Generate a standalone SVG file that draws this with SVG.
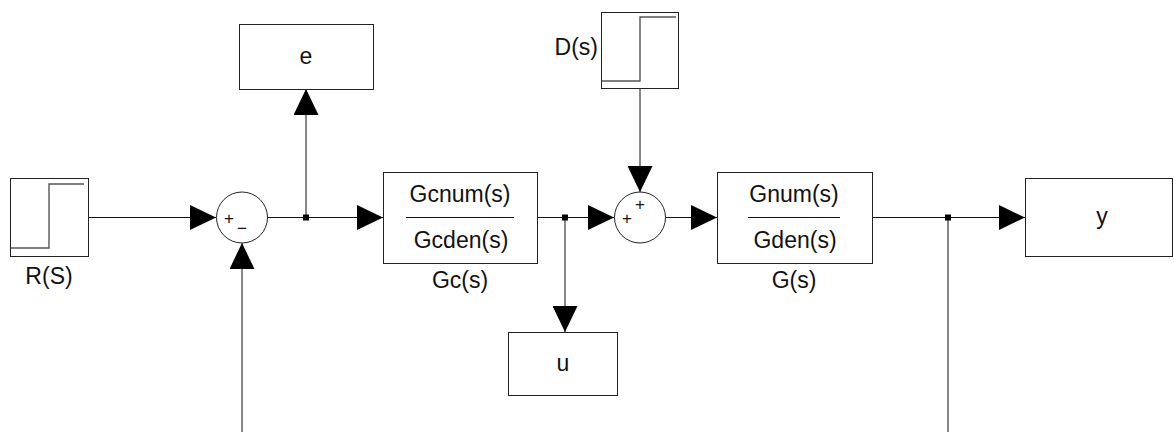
<svg xmlns="http://www.w3.org/2000/svg" width="1174" height="432" viewBox="0 0 1174 432">
  <style>
    .blk { fill: #fff; stroke: #222; stroke-width: 1; }
    .sig { fill: none; stroke: #555; stroke-width: 1.4; }
    .wire { fill: none; stroke: #111; stroke-width: 1; }
    .arw { marker-end: url(#head); }
    .lbl { font-family: "Liberation Sans", Arial, sans-serif; font-size: 23px; fill: #111; text-anchor: middle; }
    .sgn { font-family: "Liberation Sans", Arial, sans-serif; font-size: 17px; fill: #111; text-anchor: middle; }
    .frac { stroke: #111; stroke-width: 1; }
    .dot { fill: #000; }
  </style>
  <defs>
    <marker id="head" markerUnits="userSpaceOnUse" markerWidth="26" markerHeight="25" refX="26" refY="12.5" orient="auto">
      <path d="M0,0 L26,12.5 L0,25 Z" fill="#000"/>
    </marker>
  </defs>
  <rect width="1174" height="432" fill="#fff"/>

  <!-- connectors -->
  <g id="connectors">
    <line class="wire arw" x1="88" y1="217.5" x2="216" y2="217.5"/>
    <line class="wire" x1="267" y1="217.5" x2="306" y2="217.5"/>
    <line class="wire arw" x1="306" y1="217.5" x2="383" y2="217.5"/>
    <line class="wire arw" x1="306" y1="217" x2="306" y2="89"/>
    <line class="wire arw" x1="242" y1="432" x2="242" y2="243"/>
    <line class="wire" x1="537" y1="217.5" x2="565" y2="217.5"/>
    <line class="wire arw" x1="565" y1="217.5" x2="614" y2="217.5"/>
    <line class="wire arw" x1="565" y1="217" x2="565" y2="332"/>
    <line class="wire arw" x1="640" y1="88" x2="640" y2="192"/>
    <line class="wire arw" x1="665" y1="217.5" x2="717" y2="217.5"/>
    <line class="wire" x1="872" y1="217.5" x2="948" y2="217.5"/>
    <line class="wire arw" x1="948" y1="217.5" x2="1025" y2="217.5"/>
    <line class="wire" x1="948" y1="217" x2="948" y2="432"/>
    <rect class="dot" x="303" y="214.5" width="6" height="6"/>
    <rect class="dot" x="562" y="214.5" width="6" height="6"/>
    <rect class="dot" x="945" y="214.5" width="6" height="6"/>
  </g>

  <!-- reference step input -->
  <g id="R">
    <rect class="blk" x="10.5" y="178.5" width="78" height="78"/>
    <polyline class="sig" points="11,248 49,248 49,184 84,184"/>
    <text class="lbl" x="49" y="284">R(S)</text>
  </g>

  <!-- error summing junction -->
  <g id="sum1">
    <circle class="blk" cx="242" cy="217.5" r="25.5"/>
    <text class="sgn" x="229" y="224">+</text>
    <text class="sgn" x="242" y="234">−</text>
  </g>

  <!-- error scope -->
  <g id="e">
    <rect class="blk" x="239.5" y="24.5" width="134" height="65"/>
    <text class="lbl" x="306" y="64">e</text>
  </g>

  <!-- controller -->
  <g id="Gc">
    <rect class="blk" x="383.5" y="172.5" width="154" height="91"/>
    <text class="lbl" x="460" y="202">Gcnum(s)</text>
    <line class="frac" x1="406" y1="217.5" x2="514" y2="217.5"/>
    <text class="lbl" x="461" y="248">Gcden(s)</text>
    <text class="lbl" x="460" y="288">Gc(s)</text>
  </g>

  <!-- control effort scope -->
  <g id="u">
    <rect class="blk" x="508.5" y="332.5" width="109" height="63"/>
    <text class="lbl" x="563" y="371">u</text>
  </g>

  <!-- disturbance step -->
  <g id="D">
    <rect class="blk" x="601.5" y="12.5" width="77" height="76"/>
    <polyline class="sig" points="602,81 640,81 640,17 676,17"/>
    <text class="lbl" x="598" y="55" style="text-anchor:end">D(s)</text>
  </g>

  <!-- disturbance summing junction -->
  <g id="sum2">
    <circle class="blk" cx="640" cy="217.5" r="25.5"/>
    <text class="sgn" x="640" y="210">+</text>
    <text class="sgn" x="627" y="224">+</text>
  </g>

  <!-- plant -->
  <g id="G">
    <rect class="blk" x="717.5" y="172.5" width="155" height="91"/>
    <text class="lbl" x="794" y="202">Gnum(s)</text>
    <line class="frac" x1="748" y1="217.5" x2="840" y2="217.5"/>
    <text class="lbl" x="795" y="248">Gden(s)</text>
    <text class="lbl" x="794" y="288">G(s)</text>
  </g>

  <!-- output scope -->
  <g id="y">
    <rect class="blk" x="1025.5" y="178.5" width="147" height="78"/>
    <text class="lbl" x="1102" y="224">y</text>
  </g>
</svg>
